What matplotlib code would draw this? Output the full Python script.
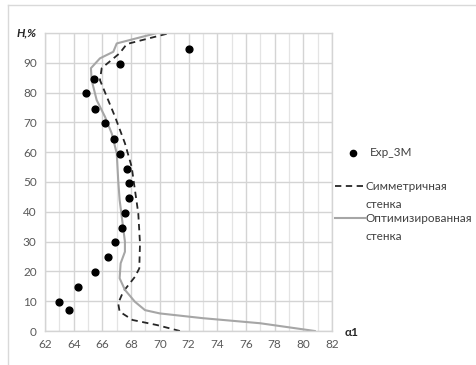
import matplotlib.pyplot as plt
from matplotlib.lines import Line2D

# experimental points (alpha1, H%)
exp_a = [72.0, 67.2, 65.4, 64.85, 65.45, 66.2, 66.8, 67.25, 67.7, 67.85,
         67.85, 67.6, 67.4, 66.85, 66.4, 65.5, 64.3, 62.95, 63.65]
exp_h = [94.5, 89.5, 84.5, 80.0, 74.5, 69.7, 64.5, 59.5, 54.5, 49.7,
         44.5, 39.5, 34.5, 29.7, 24.7, 19.8, 14.6, 9.8, 7.0]

# symmetric wall
sym_a = [71.4, 69.8, 68.1, 67.2, 67.1, 67.45, 68.27, 68.57, 68.62, 68.5,
         68.2, 68.04, 67.57, 66.88, 65.83, 65.95, 67.2, 67.7, 70.7]
sym_h = [0, 2.0, 3.7, 6.5, 9.3, 13.2, 18.2, 21.0, 29.4, 39.5,
         49.6, 55.1, 63.0, 71.9, 84.2, 88.2, 93.2, 96.3, 100]

# optimized wall
opt_a = [80.8, 77.0, 73.0, 70.0, 68.97, 68.27, 67.57, 67.2, 67.27, 67.57,
         67.57, 67.2, 67.1, 67.0, 66.65, 66.18, 65.6, 65.25, 65.2, 65.83,
         66.76, 67.0, 69.8]
opt_h = [0, 2.6, 4.3, 5.9, 7.0, 9.8, 13.8, 17.7, 22.7, 26.6,
         30.0, 44.0, 50.7, 59.6, 66.3, 71.9, 77.5, 84.2, 88.2, 91.5,
         93.7, 96.5, 100]

x_ticks = list(range(62, 83, 2))
y_ticks = list(range(0, 91, 10))

SYM_STYLE = dict(color='#262626', lw=1.3, ls=(0, (3.5, 2.5)))
OPT_STYLE = dict(color='#a6a6a6', lw=1.5)

plt.rcParams['font.family'] = ['Lato', 'DejaVu Sans']

W, H = 477, 365
fig = plt.figure(figsize=(W / 100, H / 100), dpi=100)
ax = fig.add_axes([45 / W, 34 / H, 287 / W, 298 / H])

ax.plot(sym_a, sym_h, **SYM_STYLE)
ax.plot(opt_a, opt_h, **OPT_STYLE)
ax.scatter(exp_a, exp_h, s=24, color='black', zorder=3)

ax.set_xlim(62, 82)
ax.set_ylim(0, 100)
ax.set_xticks(x_ticks)
ax.set_yticks(y_ticks)
ax.set_xticks(range(62, 83), minor=True)
ax.set_yticks(range(0, 101, 10), minor=True)
ax.grid(which='major', color='#d4d4d4', lw=1.0)
ax.grid(which='minor', color='#e4e4e4', lw=0.9)
ax.set_axisbelow(True)
ax.tick_params(which='both', length=0, labelsize=8.5, labelcolor='#595959', pad=6)
for s in ax.spines.values():
    s.set_color('#d4d4d4')
    s.set_linewidth(1.0)


def fx(px):
    return px / W


def fy(py):
    return 1 - py / H


fig.text(fx(17), fy(33), 'H,%', fontsize=8.5, fontweight='bold',
         fontstyle='italic', va='center', ha='left', color='#262626')
fig.text(fx(345), fy(333), 'α1', fontsize=8.5, fontweight='bold',
         va='center', ha='left', color='#262626')

# legend drawn by hand to match the two-line labels
leg_txt = dict(fontsize=8.5, color='#404040', va='center', ha='left')
fig.add_artist(Line2D([fx(353)], [fy(153)], ls='none', marker='o', ms=4.5,
                      color='black', transform=fig.transFigure))
fig.text(fx(370), fy(153), 'Exp_3M', **leg_txt)
fig.add_artist(Line2D([fx(335), fx(365)], [fy(186), fy(186)],
                      transform=fig.transFigure, **SYM_STYLE))
fig.text(fx(366), fy(186), 'Симметричная', **leg_txt)
fig.text(fx(366), fy(205), 'стенка', **leg_txt)
fig.add_artist(Line2D([fx(335), fx(365)], [fy(218), fy(218)],
                      transform=fig.transFigure, **OPT_STYLE))
fig.text(fx(366), fy(218), 'Оптимизированная', **leg_txt)
fig.text(fx(366), fy(237), 'стенка', **leg_txt)

# outer chart border (top and left only)
fig.add_artist(Line2D([fx(8), 1], [fy(5), fy(5)],
                      transform=fig.transFigure, color='#d9d9d9', lw=1.0))
fig.add_artist(Line2D([fx(8), fx(8)], [0, fy(5)],
                      transform=fig.transFigure, color='#d9d9d9', lw=1.0))

fig.savefig('out.png', dpi=100)
